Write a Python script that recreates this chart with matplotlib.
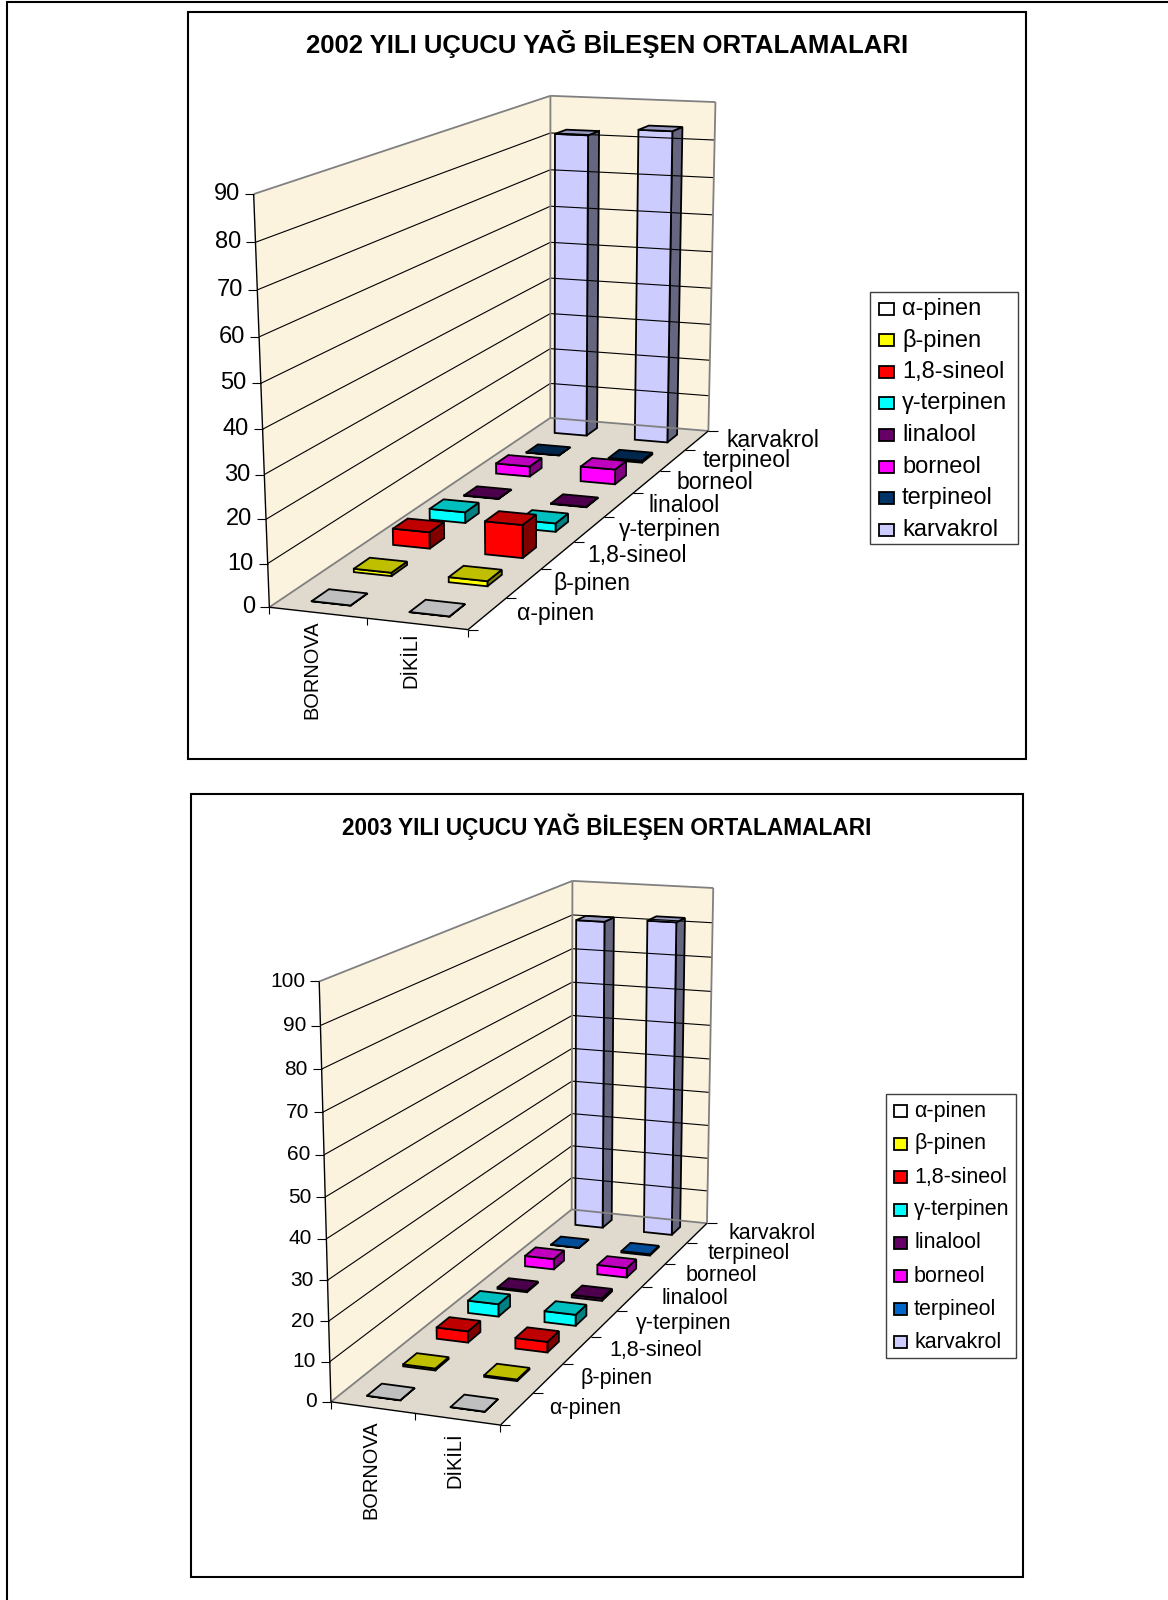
import numpy as np
import matplotlib
matplotlib.use('Agg')
import matplotlib.pyplot as plt
from matplotlib.patches import Polygon, Rectangle

plt.rcParams['font.family'] = ['Liberation Sans', 'DejaVu Sans']

series = ['α-pinen', 'β-pinen', '1,8-sineol', 'γ-terpinen', 'linalool', 'borneol', 'terpineol', 'karvakrol']
places = ['BORNOVA', 'DİKİLİ']

bornova_2002 = [0.05, 0.8, 4.0, 2.7, 0.1, 2.7, 0.05, 82.0]
dikili_2002 = [0.05, 1.2, 8.0, 2.1, 0.1, 3.9, 0.5, 84.0]
bornova_2003 = [0.05, 0.5, 3.0, 3.4, 0.4, 3.0, 0.05, 91.0]
dikili_2003 = [0.05, 0.4, 2.8, 3.0, 0.7, 2.7, 0.4, 92.0]

ticks_2002 = [0, 10, 20, 30, 40, 50, 60, 70, 80, 90]
ticks_2003 = [0, 10, 20, 30, 40, 50, 60, 70, 80, 90, 100]

# front, top, side
colors_2002 = [('#FFFFFF', '#BFBFBF', '#808080'), ('#FFFF00', '#BFBF00', '#808000'),
               ('#FF0000', '#BF0000', '#800000'), ('#00FFFF', '#00BFBF', '#008080'),
               ('#660066', '#4C004C', '#330033'), ('#FF00FF', '#BF00BF', '#800080'),
               ('#003366', '#00264C', '#001933'), ('#CCCCFF', '#9999BF', '#666680')]
colors_2003 = list(colors_2002)
colors_2003[6] = ('#0066CC', '#004C99', '#003366')

WALL = '#FCF3DF'
FLOOR = '#E0D9CE'
GRAY = '#808080'

fig = plt.figure(figsize=(11.68, 16), dpi=100)
ax = fig.add_axes([0, 0, 1, 1])
ax.set_xlim(0, 1168)
ax.set_ylim(1600, 0)
ax.axis('off')


def make_camera(O, R, P, Q, A, B, C):
    # fit a projective camera on the 7 visible corners of the plot box
    world = [(0, 0, 0), (1, 0, 0), (0, 1, 0), (1, 1, 0), (0, 0, 1), (0, 1, 1), (1, 1, 1)]
    rows, rhs = [], []
    for (x, z, v), (u, w) in zip(world, [O, R, P, Q, A, B, C]):
        rows.append([x, z, v, 1, 0, 0, 0, 0, -u * x, -u * z, -u * v])
        rows.append([0, 0, 0, 0, x, z, v, 1, -w * x, -w * z, -w * v])
        rhs += [u, w]
    m = np.linalg.lstsq(np.array(rows, float), np.array(rhs, float), rcond=None)[0]
    M = np.append(m, 1).reshape(3, 4)

    def project(x, z, v):
        p = M @ np.array([x, z, v, 1.0])
        return p[0] / p[2], p[1] / p[2]
    return project


def poly(points, face, edge='black', lw=1.0):
    ax.add_patch(Polygon(points, closed=True, facecolor=face, edgecolor=edge, linewidth=lw, joinstyle='miter'))


def line(p, q, color='black', lw=0.8):
    ax.plot([p[0], q[0]], [p[1], q[1]], color=color, linewidth=lw, solid_capstyle='butt')


def draw_chart(title, title_xy, title_size, frame, corners, ticks, values, colors,
               legend_box, legend_rows, tick_size, label_size, label_shift, legend_size, place_shift):
    x0, y0, x1, y1 = frame
    ax.add_patch(Rectangle((x0, y0), x1 - x0, y1 - y0, facecolor='white', edgecolor='black', linewidth=1.5))
    ax.text(title_xy[0], title_xy[1], title, ha='center', va='center', fontsize=title_size, fontweight='bold')

    pr = make_camera(*corners)
    ymax = ticks[-1]

    poly([pr(0, 0, 0), pr(0, 0, 1), pr(0, 1, 1), pr(0, 1, 0)], WALL, 'none')
    poly([pr(0, 1, 0), pr(0, 1, 1), pr(1, 1, 1), pr(1, 1, 0)], WALL, 'none')
    poly([pr(0, 0, 0), pr(1, 0, 0), pr(1, 1, 0), pr(0, 1, 0)], FLOOR, 'none')

    for t in ticks:
        v = t / ymax
        if 0 < t < ymax:
            line(pr(0, 0, v), pr(0, 1, v))
            line(pr(0, 1, v), pr(1, 1, v))
        a = pr(0, 0, v)
        line((a[0] - 9, a[1]), a)
        ax.text(a[0] - 14, a[1], str(t), ha='right', va='center', fontsize=tick_size)

    # wall and floor outline
    line(pr(0, 0, 1), pr(0, 1, 1), GRAY, 1.3)
    line(pr(0, 1, 1), pr(1, 1, 1), GRAY, 1.3)
    line(pr(1, 1, 1), pr(1, 1, 0), GRAY, 1.3)
    line(pr(0, 1, 1), pr(0, 1, 0), GRAY, 1.3)
    line(pr(0, 1, 0), pr(0, 0, 0), GRAY, 1.3)
    line(pr(0, 1, 0), pr(1, 1, 0), GRAY, 1.3)
    line(pr(0, 0, 0), pr(0, 0, 1), 'black', 1.0)
    line(pr(0, 0, 0), pr(1, 0, 0), 'black', 1.0)
    line(pr(1, 0, 0), pr(1, 1, 0), 'black', 1.0)

    # category ticks and labels
    for i in range(len(places) + 1):
        a = pr(i / len(places), 0, 0)
        line(a, (a[0], a[1] + 7))
    for i, name in enumerate(places):
        a = pr((i + 0.5) / len(places), 0, 0)
        ax.text(a[0] + place_shift[0], a[1] + place_shift[1], name, rotation=90, ha='center', va='top', fontsize=14.4)

    # depth ticks and labels
    n = len(series)
    for j in range(n + 1):
        a = pr(1, j / n, 0)
        line(a, (a[0] + 10, a[1]))
    for j, name in enumerate(series):
        a = pr(1, (j + 0.5) / n, 0)
        ax.text(a[0] + label_shift, a[1], name, ha='left', va='center', fontsize=label_size)

    # bars, back row first so the front ones cover them
    for j in range(n - 1, -1, -1):
        front, top, side = colors[j]
        zs, ze = (j + 0.3) / n, (j + 0.7) / n
        for i in range(len(places)):
            xs, xe = (i + 0.3) / len(places), (i + 0.7) / len(places)
            v = values[i][j] / ymax
            poly([pr(xe, zs, 0), pr(xe, ze, 0), pr(xe, ze, v), pr(xe, zs, v)], side, lw=1.3)
            poly([pr(xs, zs, 0), pr(xe, zs, 0), pr(xe, zs, v), pr(xs, zs, v)], front, lw=1.3)
            poly([pr(xs, zs, v), pr(xe, zs, v), pr(xe, ze, v), pr(xs, ze, v)], top, lw=1.3)

    # legend
    lx0, ly0, lx1, ly1 = legend_box
    first, step, mark_x, mark_w, mark_h, text_x = legend_rows
    ax.add_patch(Rectangle((lx0, ly0), lx1 - lx0, ly1 - ly0, facecolor='white', edgecolor='#404040', linewidth=1.0))
    for j, name in enumerate(series):
        yc = first + j * step
        ax.add_patch(Rectangle((mark_x, yc - mark_h / 2), mark_w, mark_h, facecolor=colors[j][0],
                               edgecolor='black', linewidth=1.3))
        ax.text(text_x, yc, name, ha='left', va='center', fontsize=legend_size)


draw_chart('2002 YILI UÇUCU YAĞ BİLEŞEN ORTALAMALARI', (607, 44), 18.5, (188, 12, 1026, 759),
           [(268.7, 606.7), (468.5, 630), (551, 418.3), (707.8, 430.7), (253.9, 194.3), (550, 95.7), (715.7, 102)],
           ticks_2002, [bornova_2002, dikili_2002], colors_2002,
           (870, 292, 1018, 544), (308.6, 31.6, 879, 15, 12, 902), 17, 16.6, 30, 17, (-6, 8))

draw_chart('2003 YILI UÇUCU YAĞ BİLEŞEN ORTALAMALARI', (607, 827), 16.3, (191, 794, 1023, 1577),
           [(330.3, 1401.7), (501, 1425), (572.2, 1209.3), (706.5, 1223.6), (319.3, 981.7), (572.3, 881), (713.3, 887.7)],
           ticks_2003, [bornova_2003, dikili_2003], colors_2003,
           (885.7, 1094, 1016, 1357.7), (1111, 33, 894.3, 12.4, 12, 914), 15, 15.5, 32, 15.5, (-2, 13))

# page border
line((7, 2), (7, 1600), 'black', 1.5)
line((6, 2), (1168, 2), 'black', 1.5)

fig.savefig('out.png', dpi=100)
